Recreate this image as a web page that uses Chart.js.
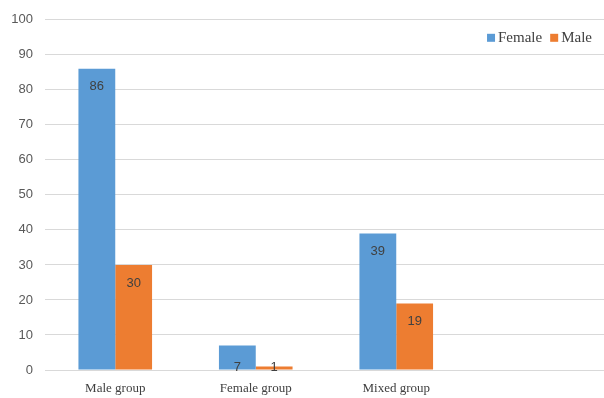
<!DOCTYPE html>
<html>
<head>
<meta charset="utf-8">
<script src="https://cdn.jsdelivr.net/npm/chart.js@4"></script>
<style>
    html, body { margin: 0; padding: 0; background: #fff; overflow: hidden; }
    #wrap { position: relative; width: 607px; height: 398px; }
</style>
</head>
<body>
<div id="wrap"><canvas id="chart"></canvas></div>
<script>
const categories = ['Male group', 'Female group', 'Mixed group', ''];
const femaleValues = [86, 7, 39, null];
const maleValues = [30, 1, 19, null];
const yTicks = [0, 10, 20, 30, 40, 50, 60, 70, 80, 90, 100];

// value labels inside the bar ends (short bars: at the base)
const barLabels = {
    id: 'barLabels',
    afterDatasetsDraw(chart) {
        const ctx = chart.ctx;
        const base = chart.scales.y.getPixelForValue(0);
        ctx.save();
        ctx.font = '13px "Liberation Sans"';
        ctx.fillStyle = '#404040';
        ctx.textAlign = 'center';
        ctx.textBaseline = 'middle';
        chart.data.datasets.forEach((ds, i) => {
            chart.getDatasetMeta(i).data.forEach((bar, j) => {
                const v = ds.data[j];
                if(v == null) {
                    return;
                }
                const y = (base - bar.y < 36) ? base - 3 : bar.y + 18;
                ctx.fillText(String(v), bar.x, y);
            });
        });
        ctx.restore();
    }
};

// legend inside the plot, top right
const insideLegend = {
    id: 'insideLegend',
    afterDraw(chart) {
        const ctx = chart.ctx;
        const area = chart.chartArea;
        const y = area.top + 18;
        ctx.save();
        ctx.font = '15px "Liberation Serif"';
        ctx.textBaseline = 'middle';
        ctx.textAlign = 'left';
        const items = chart.data.datasets.map(ds => ({
            text: ds.label,
            color: ds.backgroundColor,
            w: ctx.measureText(ds.label).width
        }));
        const box = 8, gap = 3, space = 8;
        let total = 0;
        items.forEach((it, i) => {
            total += box + gap + it.w + (i > 0 ? space : 0);
        });
        let x = 592 - total;
        items.forEach(it => {
            ctx.fillStyle = it.color;
            ctx.fillRect(x, y - box / 2, box, box);
            x += box + gap;
            ctx.fillStyle = '#404040';
            ctx.fillText(it.text, x, y);
            x += it.w + space;
        });
        ctx.restore();
    }
};

new Chart(document.getElementById('chart'), {
    type: 'bar',
    data: {
        labels: categories,
        datasets: [
            { label: 'Female', data: femaleValues, backgroundColor: '#5B9BD5',
              categoryPercentage: 0.524, barPercentage: 1 },
            { label: 'Male', data: maleValues, backgroundColor: '#ED7D31',
              categoryPercentage: 0.524, barPercentage: 1 }
        ]
    },
    options: {
        responsive: true,
        maintainAspectRatio: false,
        animation: false,
        layout: { padding: { top: 16, right: 0, bottom: 0, left: 0 } },
        plugins: {
            tooltip: { enabled: false },
            legend: { display: false }
        },
        scales: {
            x: {
                grid: { display: false, drawTicks: false },
                border: { display: false },
                ticks: {
                    color: '#404040',
                    padding: 11,
                    maxRotation: 0,
                    font: { family: '"Liberation Serif"', size: 13 }
                },
                afterFit(scale) { scale.height = 28; }
            },
            y: {
                min: 0,
                max: 100,
                afterBuildTicks(scale) {
                    scale.ticks = yTicks.map(v => ({ value: v }));
                },
                grid: { color: '#D9D9D9', lineWidth: 1, drawTicks: false },
                border: { display: false },
                ticks: {
                    color: '#595959',
                    padding: 12,
                    font: { family: '"Liberation Sans"', size: 13 }
                },
                afterFit(scale) { scale.width = 45; }
            }
        }
    },
    plugins: [barLabels, insideLegend]
});
</script>
</body>
</html>
